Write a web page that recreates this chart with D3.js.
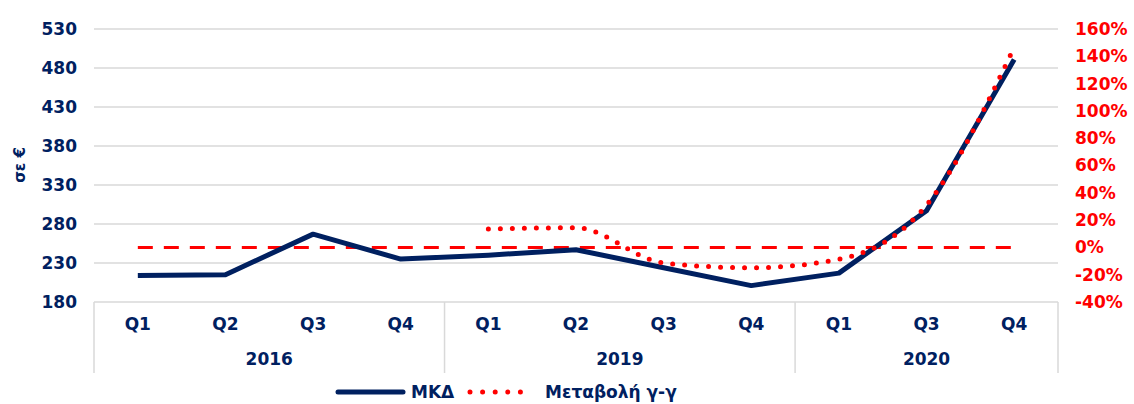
<!DOCTYPE html>
<html>
<head>
<meta charset="utf-8">
<script src="https://cdn.jsdelivr.net/npm/d3@7"></script>
<style>
  body { margin: 0; background: #fff; }
  svg { display: block; font-family: "DejaVu Sans", Verdana, sans-serif; font-weight: bold; }
</style>
</head>
<body>
<svg id="chart" width="1134" height="404"></svg>
<script>
const quarters = ['Q1', 'Q2', 'Q3', 'Q4', 'Q1', 'Q2', 'Q3', 'Q4', 'Q1', 'Q3', 'Q4'];
const years = ['2016', '2019', '2020'];
const yearSpan = [4, 4, 3];
const mkd = [214, 215, 267, 235, 240, 247, 224, 201, 217, 297, 491];
const change = [null, null, null, null, 13.5, 14.4, -11.4, -14.9, -8.7, 31, 146.6];
const leftTicks = [180, 230, 280, 330, 380, 430, 480, 530];
const rightTicks = [-40, -20, 0, 20, 40, 60, 80, 100, 120, 140, 160];

const navy = '#002060';
const red = '#ff0000';
const grid = '#d9d9d9';

const plotLeft = 94, plotRight = 1058, plotTop = 29, plotBottom = 302;

const svg = d3.select('#chart');

const x = d3.scaleBand()
  .domain(d3.range(quarters.length))
  .range([plotLeft, plotRight]);
const cx = (i) => x(i) + x.bandwidth() / 2;

const yL = d3.scaleLinear().domain([180, 530]).range([plotBottom, plotTop]);
const yR = d3.scaleLinear().domain([-40, 160]).range([plotBottom, plotTop]);

// gridlines
svg.append('g')
  .selectAll('line')
  .data(leftTicks.slice(1))
  .enter()
  .append('line')
  .attr('x1', plotLeft).attr('x2', plotRight)
  .attr('y1', (d) => yL(d)).attr('y2', (d) => yL(d))
  .attr('stroke', grid).attr('stroke-width', 1.5);

// left axis
const leftAxis = svg.append('g')
  .attr('transform', `translate(${plotLeft}, 0)`)
  .call(d3.axisLeft(yL).tickValues(leftTicks).tickSize(0).tickPadding(17));
leftAxis.select('.domain').remove();
leftAxis.selectAll('text')
  .attr('fill', navy).style('font-size', '17px').style('font-family', '"DejaVu Sans", sans-serif').style('font-weight', 'bold');

// right axis
const rightAxis = svg.append('g')
  .attr('transform', `translate(${plotRight}, 0)`)
  .call(d3.axisRight(yR).tickValues(rightTicks).tickSize(0).tickPadding(17).tickFormat((d) => d + '%'));
rightAxis.select('.domain').remove();
rightAxis.selectAll('text')
  .attr('fill', red).style('font-size', '17px').style('font-family', '"DejaVu Sans", sans-serif').style('font-weight', 'bold');

// y title
svg.append('text')
  .attr('transform', 'translate(25, 165) rotate(-90)')
  .attr('text-anchor', 'middle')
  .attr('fill', navy)
  .style('font-size', '15px')
  .text('σε €');

// category axis box
const cat = svg.append('g');
cat.append('line')
  .attr('x1', plotLeft).attr('x2', plotRight)
  .attr('y1', plotBottom).attr('y2', plotBottom)
  .attr('stroke', grid).attr('stroke-width', 1.5);

let bounds = [0];
yearSpan.forEach((n) => bounds.push(bounds[bounds.length - 1] + n));
const bx = (b) => b < quarters.length ? x(b) : plotRight;
cat.selectAll('.sep')
  .data(bounds)
  .enter()
  .append('line')
  .attr('x1', (d) => bx(d))
  .attr('x2', (d) => bx(d))
  .attr('y1', plotBottom).attr('y2', 373)
  .attr('stroke', grid).attr('stroke-width', 1.5);

cat.selectAll('.q')
  .data(quarters)
  .enter()
  .append('text')
  .attr('x', (d, i) => cx(i))
  .attr('y', 330)
  .attr('text-anchor', 'middle')
  .attr('fill', navy)
  .style('font-size', '17px')
  .text((d) => d);

cat.selectAll('.yr')
  .data(years)
  .enter()
  .append('text')
  .attr('x', (d, i) => (bx(bounds[i]) + bx(bounds[i + 1])) / 2)
  .attr('y', 365)
  .attr('text-anchor', 'middle')
  .attr('fill', navy)
  .style('font-size', '17px')
  .text((d) => d);

// zero line
svg.append('line')
  .attr('x1', cx(0)).attr('x2', cx(quarters.length - 1))
  .attr('y1', yR(0)).attr('y2', yR(0))
  .attr('stroke', red).attr('stroke-width', 3)
  .attr('stroke-dasharray', '15 11');

// MKD line
const lineL = d3.line()
  .x((d, i) => cx(i))
  .y((d) => yL(d));
svg.append('path')
  .datum(mkd)
  .attr('d', lineL)
  .attr('fill', 'none')
  .attr('stroke', navy)
  .attr('stroke-width', 5)
  .attr('stroke-linejoin', 'round');

// change y-y line
const changePts = change.map((d, i) => ({i, d})).filter((p) => p.d !== null);
const lineR = d3.line()
  .x((p) => cx(p.i))
  .y((p) => yR(p.d))
  .curve(d3.curveMonotoneX);
svg.append('path')
  .datum(changePts)
  .attr('d', lineR)
  .attr('fill', 'none')
  .attr('stroke', red)
  .attr('stroke-width', 5)
  .attr('stroke-linecap', 'round')
  .attr('stroke-dasharray', '0 12');

// legend
const legend = svg.append('g').attr('transform', 'translate(0, 392)');
legend.append('line')
  .attr('x1', 338).attr('x2', 403).attr('y1', 0).attr('y2', 0)
  .attr('stroke', navy).attr('stroke-width', 5).attr('stroke-linecap', 'round');
legend.append('text')
  .attr('x', 411).attr('y', 6)
  .attr('fill', navy).style('font-size', '17px')
  .text('ΜΚΔ');
legend.append('line')
  .attr('x1', 470).attr('x2', 533).attr('y1', 0).attr('y2', 0)
  .attr('stroke', red).attr('stroke-width', 5).attr('stroke-linecap', 'round')
  .attr('stroke-dasharray', '0 12.6');
legend.append('text')
  .attr('x', 545).attr('y', 6)
  .attr('fill', navy).style('font-size', '17px')
  .text('Μεταβολή γ-γ');
</script>
</body>
</html>
